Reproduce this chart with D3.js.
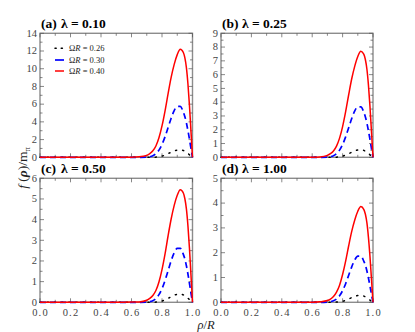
<!DOCTYPE html>
<html><head><meta charset="utf-8">
<script src="https://cdn.jsdelivr.net/npm/d3@7"></script>
<style>
body{margin:0;background:#fff;}
svg{display:block;}
</style></head><body>
<svg id="c" width="415" height="332"></svg>
<script>
// ---- data ----
const rho = [0,0.1,0.2,0.3,0.4,0.5,0.6,0.65,0.7,0.72,0.74,0.76,0.78,0.8,0.82,0.84,0.86,0.88,0.9,0.92,0.94,0.95,0.96,0.97,0.98,0.99,1.0];
const seriesNames = ["ΩR = 0.26","ΩR = 0.30","ΩR = 0.40"];
const panelLabels = ["(a)","(b)","(c)","(d)"];
const lambdaLabels = ["λ = 0.10","λ = 0.25","λ = 0.50","λ = 1.00"];
const yMax = [14,9,6,5];
const yMajorStep = [2,1,1,1];
const yMinorStep = [1,0.5,0.5,0.5];
const xTickLabels = ["0.0","0.2","0.4","0.6","0.8","1.0"];

// a: lambda = 0.10
const a026 = [0,0,0,0,0,0,0,0,0,0,0,0.02,0.05,0.13,0.26,0.41,0.58,0.73,0.82,0.85,0.77,0.68,0.56,0.43,0.28,0.14,0];
const a030 = [0,0,0,0,0,0,0,0,0.02,0.06,0.17,0.41,0.81,1.45,2.32,3.36,4.41,5.28,5.74,5.74,5.1,4.58,3.89,3.02,2.03,0.99,0];
const a040 = [0,0,0,0,0,0,0.01,0.05,0.22,0.41,0.73,1.28,2.2,3.54,5.25,7.2,9.03,10.49,11.59,12.2,11.83,11.22,10.13,8.3,5.86,2.93,0];
// b: lambda = 0.25
const b026 = [0,0,0,0,0,0,0,0,0,0,0,0.01,0.03,0.08,0.17,0.26,0.37,0.47,0.53,0.55,0.5,0.44,0.36,0.28,0.18,0.09,0];
const b030 = [0,0,0,0,0,0,0,0,0.01,0.04,0.11,0.26,0.52,0.93,1.48,2.15,2.81,3.37,3.66,3.66,3.26,2.92,2.48,1.92,1.3,0.63,0];
const b040 = [0,0,0,0,0,0,0.01,0.03,0.14,0.26,0.46,0.81,1.39,2.23,3.31,4.54,5.7,6.62,7.32,7.7,7.47,7.08,6.39,5.24,3.7,1.85,0];
// c: lambda = 0.50
const c026 = [0,0,0,0,0,0,0,0,0,0,0,0.01,0.02,0.06,0.12,0.19,0.27,0.34,0.39,0.4,0.36,0.32,0.26,0.2,0.13,0.06,0];
const c030 = [0,0,0,0,0,0,0,0,0.01,0.03,0.08,0.18,0.37,0.66,1.06,1.53,2.01,2.4,2.61,2.61,2.32,2.09,1.77,1.37,0.92,0.45,0];
const c040 = [0,0,0,0,0,0,0.01,0.02,0.1,0.19,0.33,0.57,0.98,1.58,2.34,3.22,4.03,4.69,5.18,5.45,5.29,5.01,4.52,3.71,2.62,1.31,0];
// d: lambda = 1.00
const d026 = [0,0,0,0,0,0,0,0,0,0,0,0.01,0.02,0.04,0.08,0.13,0.19,0.24,0.27,0.28,0.25,0.22,0.18,0.14,0.09,0.04,0];
const d030 = [0,0,0,0,0,0,0,0,0.01,0.02,0.06,0.13,0.26,0.47,0.75,1.09,1.43,1.71,1.86,1.86,1.65,1.49,1.26,0.98,0.66,0.32,0];
const d040 = [0,0,0,0,0,0,0,0.02,0.07,0.13,0.23,0.41,0.69,1.12,1.66,2.28,2.86,3.32,3.67,3.86,3.74,3.55,3.2,2.62,1.85,0.93,0];

const panelData = [[a026,a030,a040],[b026,b030,b040],[c026,c030,c040],[d026,d030,d040]];

// ---- layout ----
const FONT = "'Liberation Serif', serif";
const svg = d3.select("#c").style("font-family",FONT);
const boxes = [
  {x0:40, x1:192.5, y0:33.3, y1:157.3},
  {x0:221, x1:373, y0:33.3, y1:157.3},
  {x0:40, x1:192.5, y0:178.3, y1:302.3},
  {x0:221, x1:373, y0:178.3, y1:302.3}
];
const styles = [
  {color:"#000", dash:"1.2,6", width:1.5, cap:"round"},
  {color:"#0000ff", dash:"6,4", width:1.7, cap:"butt"},
  {color:"#ff0000", dash:null, width:1.5, cap:"butt"}
];
const frameColor = "#8c8c8c";
const tickColor = "#555";

function txt(sel){ return sel.style("font-family",FONT); }

boxes.forEach((b,i)=>{
  const g = svg.append("g");
  const x = d3.scaleLinear().domain([0,1]).range([b.x0,b.x1]);
  const y = d3.scaleLinear().domain([0,yMax[i]]).range([b.y1,b.y0]);

  g.append("rect").attr("x",b.x0).attr("y",b.y0).attr("width",b.x1-b.x0).attr("height",b.y1-b.y0)
    .attr("fill","none").attr("stroke",frameColor).attr("stroke-width",1.4);

  const xMinor = d3.range(0,1.0001,0.1);
  xMinor.forEach((v,k)=>{
    const L = (k%2===0)?4:2.5;
    g.append("line").attr("x1",x(v)).attr("x2",x(v)).attr("y1",b.y1).attr("y2",b.y1-L).attr("stroke",tickColor).attr("stroke-width",0.7);
    g.append("line").attr("x1",x(v)).attr("x2",x(v)).attr("y1",b.y0).attr("y2",b.y0+L).attr("stroke",tickColor).attr("stroke-width",0.7);
  });
  const yTicksMinor = d3.range(0,yMax[i]+1e-6,yMinorStep[i]);
  yTicksMinor.forEach(v=>{
    const major = Math.abs(v/yMajorStep[i]-Math.round(v/yMajorStep[i]))<1e-6;
    const L = major?4:2.5;
    g.append("line").attr("x1",b.x0).attr("x2",b.x0+L).attr("y1",y(v)).attr("y2",y(v)).attr("stroke",tickColor).attr("stroke-width",0.7);
    g.append("line").attr("x1",b.x1).attr("x2",b.x1-L).attr("y1",y(v)).attr("y2",y(v)).attr("stroke",tickColor).attr("stroke-width",0.7);
  });
  const yTicksMajor = d3.range(0,yMax[i]+1e-6,yMajorStep[i]);
  txt(g.selectAll("text.yl").data(yTicksMajor).enter().append("text"))
    .attr("x",b.x0-3).attr("y",d=>y(d)+3.2).attr("text-anchor","end")
    .attr("font-size",10.5).attr("fill","#444").text(d=>d3.format("d")(d));
  if(i>=2){
    txt(g.selectAll("text.xl").data(xTickLabels).enter().append("text"))
      .attr("x",d=>x(+d)+0.5).attr("y",b.y1+14).attr("text-anchor","middle")
      .attr("font-size",10.5).attr("fill","#444").attr("letter-spacing","1.2").text(d=>d);
  }
  const line = d3.line().x((d,k)=>x(rho[k])).y(d=>y(d)).curve(d3.curveMonotoneX);
  panelData[i].forEach((ser,s)=>{
    const st = styles[s];
    g.append("path").attr("d",line(ser)).attr("fill","none").attr("stroke",st.color)
      .attr("stroke-width",st.width).attr("stroke-dasharray",st.dash).attr("stroke-linecap",st.cap);
  });
  const ty = b.y0-5.5;
  txt(g.append("text")).attr("x",b.x0+1).attr("y",ty).attr("font-size",13.5).attr("font-weight","bold").text(panelLabels[i]);
  txt(g.append("text")).attr("x",b.x0+21).attr("y",ty).attr("font-size",13.5).attr("font-weight","bold").text(lambdaLabels[i]);
});

// legend in panel (a)
const leg = svg.append("g");
const legY = [48.3,60,71];
seriesNames.forEach((n,s)=>{
  const st = styles[s];
  leg.append("line").attr("x1",55).attr("x2",64).attr("y1",legY[s]).attr("y2",legY[s])
    .attr("stroke",st.color).attr("stroke-width",st.width).attr("stroke-dasharray",s===0?"1.2,5":null).attr("stroke-linecap",st.cap);
  const t = txt(leg.append("text")).attr("x",69).attr("y",legY[s]+2.8).attr("font-size",8.5).attr("fill","#222");
  t.append("tspan").text("Ω");
  t.append("tspan").attr("font-style","italic").text("R");
  t.append("tspan").text(n.slice(2));
});

// axis labels
const yl = txt(svg.append("text")).attr("transform","translate(27,168) rotate(-90)").attr("text-anchor","middle").attr("font-size",13.5).attr("fill","#222");
yl.append("tspan").attr("font-style","italic").text("f");
yl.append("tspan").text(" (");
yl.append("tspan").attr("font-style","italic").attr("font-weight","bold").text("ρ");
yl.append("tspan").text(")/m");
yl.append("tspan").attr("font-size",8.5).attr("dy",3).text("π");

const xl = txt(svg.append("text")).attr("x",206).attr("y",329).attr("text-anchor","middle").attr("font-size",12.5).attr("fill","#222");
xl.append("tspan").attr("font-style","italic").text("ρ");
xl.append("tspan").text("/");
xl.append("tspan").attr("font-style","italic").text("R");
</script>
</body></html>
